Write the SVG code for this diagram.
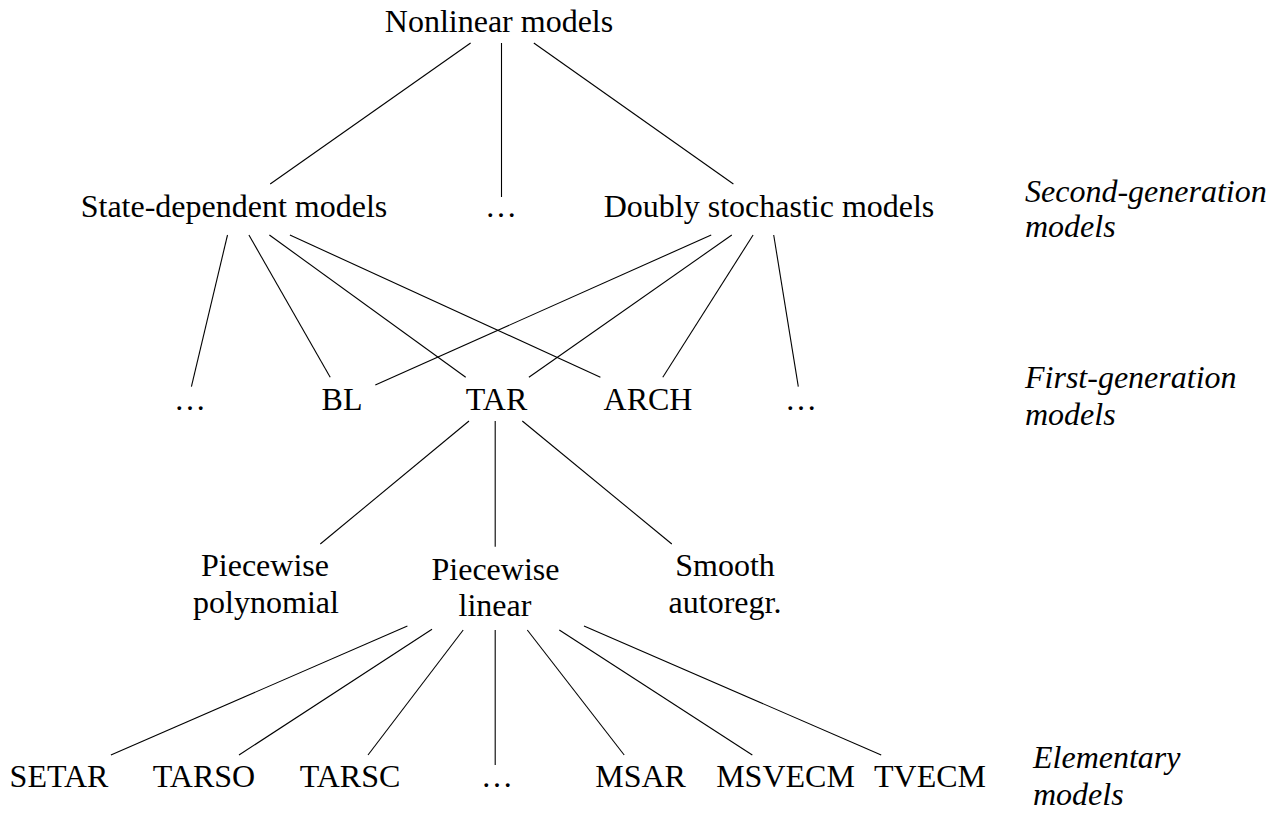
<svg xmlns="http://www.w3.org/2000/svg" width="1273" height="814" viewBox="0 0 1273 814">
<style>
text{font-family:"Liberation Serif","Times New Roman",serif;font-size:32px;fill:#000}
.n{text-anchor:middle}
.it{font-style:italic}
#connectors line{stroke:#000;stroke-width:1.1}
</style>
<rect width="1273" height="814" fill="#fff"/>
<g id="connectors">
<line x1="470.6" y1="43" x2="270.2" y2="184"/>
<line x1="501.5" y1="43" x2="501.5" y2="197"/>
<line x1="533.8" y1="43" x2="733.4" y2="184"/>
<line x1="227.5" y1="235" x2="191.4" y2="386.7"/>
<line x1="248.9" y1="235" x2="330.2" y2="377.3"/>
<line x1="269.4" y1="235" x2="465.7" y2="377.3"/>
<line x1="289.9" y1="235" x2="600.4" y2="377.3"/>
<line x1="711.2" y1="235" x2="375.3" y2="385"/>
<line x1="731.8" y1="235" x2="528.9" y2="377.3"/>
<line x1="753.1" y1="235" x2="662.8" y2="377.3"/>
<line x1="773.7" y1="235" x2="798.3" y2="386.7"/>
<line x1="469" y1="421" x2="320.3" y2="544"/>
<line x1="495.2" y1="421" x2="495.2" y2="546.7"/>
<line x1="522.3" y1="421" x2="671.8" y2="544"/>
<line x1="407.4" y1="626" x2="110.9" y2="755"/>
<line x1="432" y1="629.3" x2="239" y2="755"/>
<line x1="463.2" y1="630" x2="368" y2="755"/>
<line x1="495.2" y1="630" x2="495.2" y2="765"/>
<line x1="527.3" y1="630" x2="624.2" y2="755"/>
<line x1="559.3" y1="630" x2="752.3" y2="755"/>
<line x1="584" y1="626" x2="881.2" y2="755"/>
</g>
<g id="nonlinear"><text class="n" x="499" y="32">Nonlinear models</text></g>
<g id="state-dependent"><text class="n" x="234" y="217">State-dependent models</text></g>
<g id="dots2"><text class="n" x="501" y="217">…</text></g>
<g id="doubly"><text class="n" x="769" y="217">Doubly stochastic models</text></g>
<g id="label-second"><text class="it" x="1025" y="202">Second-generation</text><text class="it" x="1025" y="237">models</text></g>
<g id="dots1a"><text class="n" x="190" y="410">…</text></g>
<g id="bl"><text class="n" x="342" y="410">BL</text></g>
<g id="tar"><text class="n" x="496.5" y="410">TAR</text></g>
<g id="arch"><text class="n" x="648" y="410">ARCH</text></g>
<g id="dots1b"><text class="n" x="801" y="410">…</text></g>
<g id="label-first"><text class="it" x="1025" y="388">First-generation</text><text class="it" x="1025" y="425">models</text></g>
<g id="pw-poly"><text class="n" x="265" y="576">Piecewise</text><text class="n" x="266" y="613">polynomial</text></g>
<g id="pw-linear"><text class="n" x="495.5" y="580">Piecewise</text><text class="n" x="495" y="616">linear</text></g>
<g id="smooth"><text class="n" x="725" y="576">Smooth</text><text class="n" x="725" y="613">autoregr.</text></g>
<g id="setar"><text class="n" x="59" y="787">SETAR</text></g>
<g id="tarso"><text class="n" x="204" y="787">TARSO</text></g>
<g id="tarsc"><text class="n" x="350" y="787">TARSC</text></g>
<g id="dots0"><text class="n" x="497" y="787">…</text></g>
<g id="msar"><text class="n" x="640.6" y="787">MSAR</text></g>
<g id="msvecm"><text class="n" x="785.5" y="787">MSVECM</text></g>
<g id="tvecm"><text class="n" x="930" y="787">TVECM</text></g>
<g id="label-elem"><text class="it" x="1033" y="768">Elementary</text><text class="it" x="1033" y="805">models</text></g>
</svg>
